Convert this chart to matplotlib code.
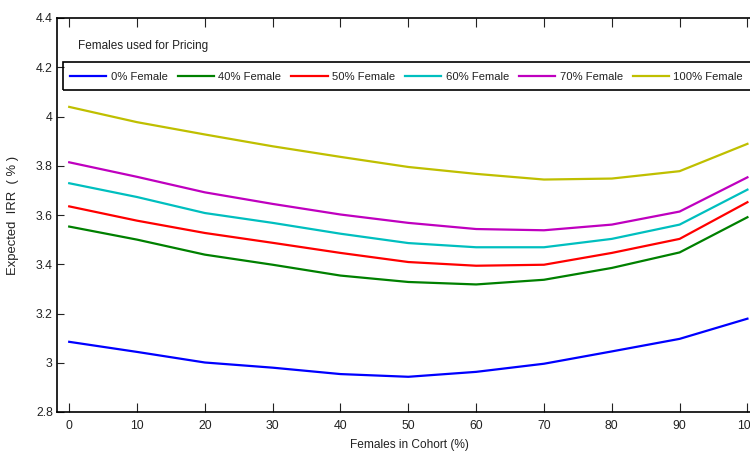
import matplotlib.pyplot as plt
from matplotlib.patches import Rectangle

plt.rcParams['font.family'] = ['Liberation Sans', 'DejaVu Sans']

# Females in cohort (%)
cohort = [0, 10, 20, 30, 40, 50, 60, 70, 80, 90, 100]

# Expected IRR (%) by share of females used for pricing
irr_0 = [3.085, 3.044, 3.001, 2.980, 2.954, 2.943, 2.963, 2.996, 3.046, 3.097, 3.179]
irr_40 = [3.553, 3.500, 3.439, 3.398, 3.354, 3.328, 3.318, 3.337, 3.385, 3.448, 3.591]
irr_50 = [3.635, 3.577, 3.527, 3.487, 3.446, 3.409, 3.394, 3.398, 3.446, 3.503, 3.652]
irr_60 = [3.729, 3.673, 3.608, 3.568, 3.524, 3.486, 3.469, 3.469, 3.503, 3.561, 3.703]
irr_70 = [3.814, 3.755, 3.692, 3.645, 3.602, 3.568, 3.543, 3.538, 3.561, 3.614, 3.753]
irr_100 = [4.039, 3.977, 3.927, 3.879, 3.836, 3.795, 3.767, 3.744, 3.748, 3.778, 3.889]

labels = ['0% Female', '40% Female', '50% Female', '60% Female', '70% Female', '100% Female']
colors = ['#0000ff', '#008000', '#ff0000', '#00bfbf', '#bf00bf', '#bfbf00']
series = [irr_0, irr_40, irr_50, irr_60, irr_70, irr_100]

W, H = 750, 451
fig = plt.figure(figsize=(W / 100, H / 100), dpi=100)
# axes runs past the right edge of the figure, like the cropped original
ax = fig.add_axes([57 / W, 1 - 412 / H, 704 / W, 394 / H])

for y, c, lab in zip(series, colors, labels):
    ax.plot(cohort, y, color=c, lw=1.6, label=lab)

ax.set_xlim(-1.8, 102)
ax.set_ylim(2.8, 4.4)
ax.set_xticks(cohort)
ax.set_yticks([2.8, 3, 3.2, 3.4, 3.6, 3.8, 4, 4.2, 4.4])
ax.set_yticklabels(['2.8', '3', '3.2', '3.4', '3.6', '3.8', '4', '4.2', '4.4'])
ax.tick_params(direction='in', width=0.8, labelsize=8.8, top=True,
               colors='#222222')
ax.tick_params(axis='x', length=6.5, pad=6)
ax.tick_params(axis='y', length=5, pad=3)
for s in ax.spines.values():
    s.set_linewidth(1.2)
ax.spines['right'].set_visible(False)

ax.set_xlabel('Females in Cohort (%)', fontsize=8.6, labelpad=5, color='#222222')
ax.set_ylabel('Expected  IRR  ( % )', fontsize=9.4, labelpad=12, color='#222222')

fig.text(78 / W, 1 - 46 / H, 'Females used for Pricing', fontsize=8.5,
         va='center', color='#222222')

leg = ax.legend(loc='upper left', bbox_to_anchor=(63 / W, 1 - 65 / H),
                bbox_transform=fig.transFigure, ncol=6, frameon=True,
                fancybox=False, fontsize=8.15,
                borderaxespad=0, handlelength=3.2, handletextpad=0.38,
                columnspacing=0.9, borderpad=0.62)
leg.get_frame().set_visible(False)
for t in leg.get_texts():
    t.set_color('#222222')

# legend box runs off the right edge in the original
fig.patches.append(Rectangle((63 / W, 1 - 89.5 / H), 720 / W, 27.5 / H,
                             transform=fig.transFigure, fill=False,
                             edgecolor='black', lw=1.2))

fig.savefig('out.png', dpi=100)
